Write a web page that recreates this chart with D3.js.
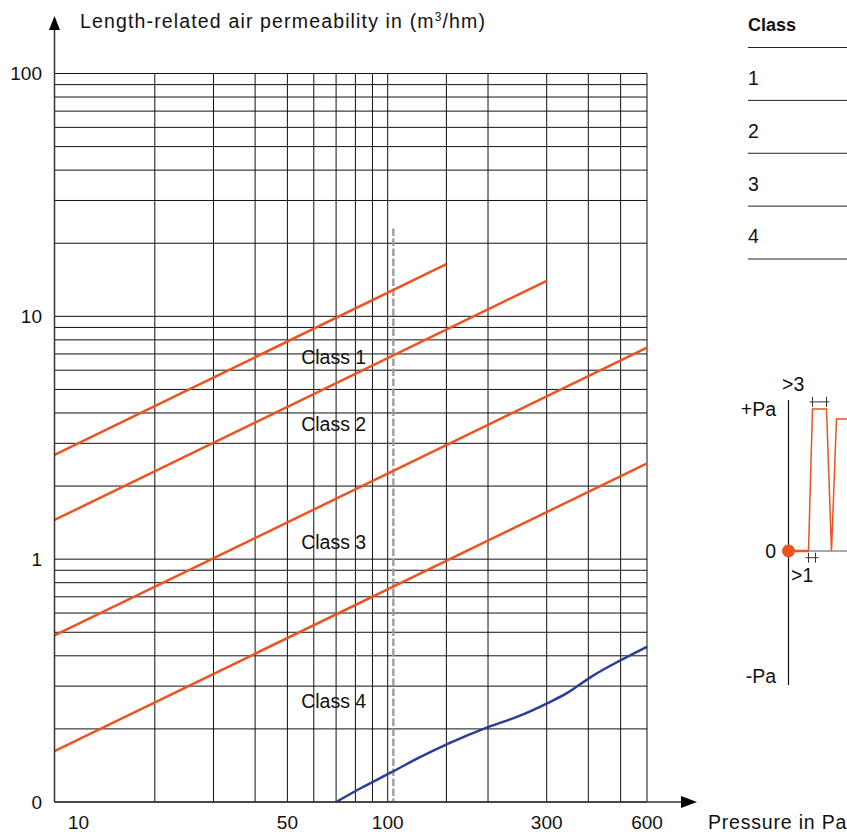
<!DOCTYPE html>
<html>
<head>
<meta charset="utf-8">
<script src="https://cdn.jsdelivr.net/npm/d3@7"></script>
<style>
  body { margin: 0; background: #fff; }
  svg { display: block; font-family: "Liberation Sans", Arial, sans-serif; }
  text { fill: #111; }
</style>
</head>
<body>
<div id="chart"></div>
<script>
// class boundary lines (m3/hm) – straight in log/log, so start + end is enough
const classNames = ["Class 1", "Class 2", "Class 3", "Class 4"];
const classMaxPressure = [150, 300, 600, 600];
const classFlowAt10 = [2.69, 1.45, 0.485, 0.162];
const classFlowAtMax = [16.4, 14.0, 7.43, 2.48];
const classLabelFlow = [6.8, 3.6, 1.17, 0.26];

// measured curve (blue)
const measuredPressure = [70, 84, 102, 125, 152, 199, 244, 301, 344, 411, 501, 600];
const measuredFlow = [0.1, 0.115, 0.132, 0.153, 0.174, 0.203, 0.224, 0.255, 0.28, 0.33, 0.384, 0.436];

// dashed reference line
const refPressure = 104;
const refTopFlow = 23;

// grid + ticks
const xGridValues = [10, 20, 30, 40, 50, 60, 70, 80, 90, 100, 150, 200, 300, 400, 500, 600];
const xTickValues = [10, 50, 100, 300, 600];
const xTickLabels = ["10", "50", "100", "300", "600"];
const yTickValues = [0.1, 1, 10, 100];
const yTickLabels = ["0", "1", "10", "100"];

// table on the right
const tableHeader = "Class";
const tableRows = ["1", "2", "3", "4"];

// pressure sequence sketch
const pulseTime = [0, 2, 2.4, 3.8, 4.3, 4.8, 7];
const pulseLevel = [0, 0, 1, 1, 0, 0.93, 0.93];

const W = 847, H = 832;
const FS = 19.5;
const orange = "#ea5420", blue = "#2b3d94";

const svg = d3.select("#chart").append("svg")
    .attr("width", W).attr("height", H);

const x = d3.scaleLog().domain([10, 600]).range([54.5, 647]);
const y = d3.scaleLog().domain([0.1, 100]).range([802, 73.5]);

// grid
const grid = svg.append("g");
grid.selectAll("line.h")
    .data(y.ticks())
    .enter().append("line")
    .attr("class", "h")
    .attr("x1", x(10)).attr("x2", x(600))
    .attr("y1", d => y(d)).attr("y2", d => y(d))
    .attr("stroke", "#111").attr("stroke-width", 1);
grid.selectAll("line.v")
    .data(xGridValues)
    .enter().append("line")
    .attr("class", "v")
    .attr("x1", d => x(d)).attr("x2", d => x(d))
    .attr("y1", y(0.1)).attr("y2", y(100))
    .attr("stroke", "#111").attr("stroke-width", 1);

// dashed reference
svg.append("line")
    .attr("x1", x(refPressure)).attr("x2", x(refPressure))
    .attr("y1", y(refTopFlow)).attr("y2", y(0.1))
    .attr("stroke", "#999").attr("stroke-width", 2.3)
    .attr("stroke-dasharray", "7.5,2.5");

// class lines
svg.selectAll("line.cls")
    .data(classNames)
    .enter().append("line")
    .attr("class", "cls")
    .attr("x1", x(10))
    .attr("y1", (d, i) => y(classFlowAt10[i]))
    .attr("x2", (d, i) => x(classMaxPressure[i]))
    .attr("y2", (d, i) => y(classFlowAtMax[i]))
    .attr("stroke", orange).attr("stroke-width", 2.5);

svg.selectAll("text.cls")
    .data(classNames)
    .enter().append("text")
    .attr("class", "cls")
    .attr("x", x(55))
    .attr("y", (d, i) => y(classLabelFlow[i]))
    .attr("dy", "0.35em")
    .attr("font-size", FS)
    .text(d => d);

// measured curve
const line = d3.line()
    .x(d => x(d[0])).y(d => y(d[1]))
    .curve(d3.curveMonotoneX);
svg.append("path")
    .datum(measuredPressure.map((p, i) => [p, measuredFlow[i]]))
    .attr("d", line)
    .attr("fill", "none")
    .attr("stroke", blue).attr("stroke-width", 2.5);

// axes
svg.append("line")
    .attr("x1", x(10)).attr("x2", x(10)).attr("y1", y(0.1)).attr("y2", 28)
    .attr("stroke", "#333").attr("stroke-width", 1.5);
svg.append("path")
    .attr("d", `M${x(10)},16 L${x(10) - 5.5},30 L${x(10) + 5.5},30 Z`)
    .attr("fill", "#000");
svg.append("line")
    .attr("x1", x(10)).attr("x2", 683).attr("y1", y(0.1)).attr("y2", y(0.1))
    .attr("stroke", "#333").attr("stroke-width", 1.5);
svg.append("path")
    .attr("d", `M697,${y(0.1)} L681,${y(0.1) - 6} L681,${y(0.1) + 6} Z`)
    .attr("fill", "#000");

svg.selectAll("text.yt")
    .data(yTickValues)
    .enter().append("text")
    .attr("class", "yt")
    .attr("x", 42)
    .attr("y", d => y(d))
    .attr("dy", "0.35em")
    .attr("text-anchor", "end")
    .attr("font-size", 19)
    .text((d, i) => yTickLabels[i]);

svg.selectAll("text.xt")
    .data(xTickValues)
    .enter().append("text")
    .attr("class", "xt")
    .attr("x", (d, i) => x(d) + (i === 0 ? 24 : 0))
    .attr("y", 829)
    .attr("text-anchor", "middle")
    .attr("font-size", 19)
    .text((d, i) => xTickLabels[i]);

const title = svg.append("text")
    .attr("x", 80).attr("y", 28)
    .attr("font-size", FS)
    .attr("letter-spacing", 1.15);
title.append("tspan").text("Length-related air permeability in (m");
title.append("tspan").attr("font-size", 12).attr("dy", -7).text("3");
title.append("tspan").attr("dy", 7).text("/hm)");

svg.append("text")
    .attr("x", 708).attr("y", 829)
    .attr("font-size", FS)
    .attr("letter-spacing", 0.8)
    .text("Pressure in Pa");

// table
const rowY = d3.scaleLinear().domain([0, 4]).range([47.5, 259]);
svg.append("text")
    .attr("x", 748).attr("y", 31)
    .attr("font-size", 18).attr("font-weight", "bold")
    .text(tableHeader);
svg.selectAll("line.row")
    .data(d3.range(tableRows.length + 1))
    .enter().append("line")
    .attr("class", "row")
    .attr("x1", 748).attr("x2", W)
    .attr("y1", d => rowY(d)).attr("y2", d => rowY(d))
    .attr("stroke", "#222").attr("stroke-width", 1);
svg.selectAll("text.row")
    .data(tableRows)
    .enter().append("text")
    .attr("class", "row")
    .attr("x", 748)
    .attr("y", (d, i) => (rowY(i) + rowY(i + 1)) / 2 + 4)
    .attr("dy", "0.35em")
    .attr("font-size", FS)
    .text(d => d);

// pressure sequence sketch
const px = d3.scaleLinear().domain([0, 10]).range([788.5, 888.5]);
const py = d3.scaleLinear().domain([-1, 0, 1]).range([685, 551, 409]);

svg.append("line")
    .attr("x1", px(0)).attr("x2", px(0)).attr("y1", 400).attr("y2", py(-1))
    .attr("stroke", "#111").attr("stroke-width", 1.2);
svg.append("line")
    .attr("x1", px(0)).attr("x2", W).attr("y1", py(0)).attr("y2", py(0))
    .attr("stroke", "#555").attr("stroke-width", 1.2);

svg.append("path")
    .datum(pulseTime.map((t, i) => [t, pulseLevel[i]]))
    .attr("d", d3.line().x(d => px(d[0])).y(d => py(d[1])))
    .attr("fill", "none")
    .attr("stroke", orange).attr("stroke-width", 1.5);
svg.append("line")
    .attr("x1", px(0)).attr("x2", px(2)).attr("y1", py(0)).attr("y2", py(0))
    .attr("stroke", orange).attr("stroke-width", 2.5);
svg.append("circle")
    .attr("cx", px(0)).attr("cy", py(0)).attr("r", 6.5)
    .attr("fill", orange);

// little dimension marks
const dims = [[2.1, 4.1, 2.4, 3.8, 1.05], [1.7, 3.0, 2.0, 2.7, -0.05]];
dims.forEach(([a, b, t1, t2, lvl]) => {
    const yy = py(lvl);
    svg.append("line")
        .attr("x1", px(a)).attr("x2", px(b)).attr("y1", yy).attr("y2", yy)
        .attr("stroke", "#333").attr("stroke-width", 1);
    [t1, t2].forEach(t => svg.append("line")
        .attr("x1", px(t)).attr("x2", px(t)).attr("y1", yy - 5).attr("y2", yy + 5)
        .attr("stroke", "#333").attr("stroke-width", 1));
});

const sideLabels = [["+Pa", 1], ["0", 0], ["-Pa", -1]];
svg.selectAll("text.pa")
    .data(sideLabels)
    .enter().append("text")
    .attr("class", "pa")
    .attr("x", 776)
    .attr("y", d => py(d[1]) + (d[1] === -1 ? -9 : 0))
    .attr("dy", "0.35em")
    .attr("text-anchor", "end")
    .attr("font-size", FS)
    .text(d => d[0]);
svg.append("text").attr("x", 782).attr("y", py(1) - 25).attr("dy", "0.35em")
    .attr("font-size", FS).text(">3");
svg.append("text").attr("x", 791).attr("y", py(0) + 24).attr("dy", "0.35em")
    .attr("font-size", FS).text(">1");
</script>
</body>
</html>
